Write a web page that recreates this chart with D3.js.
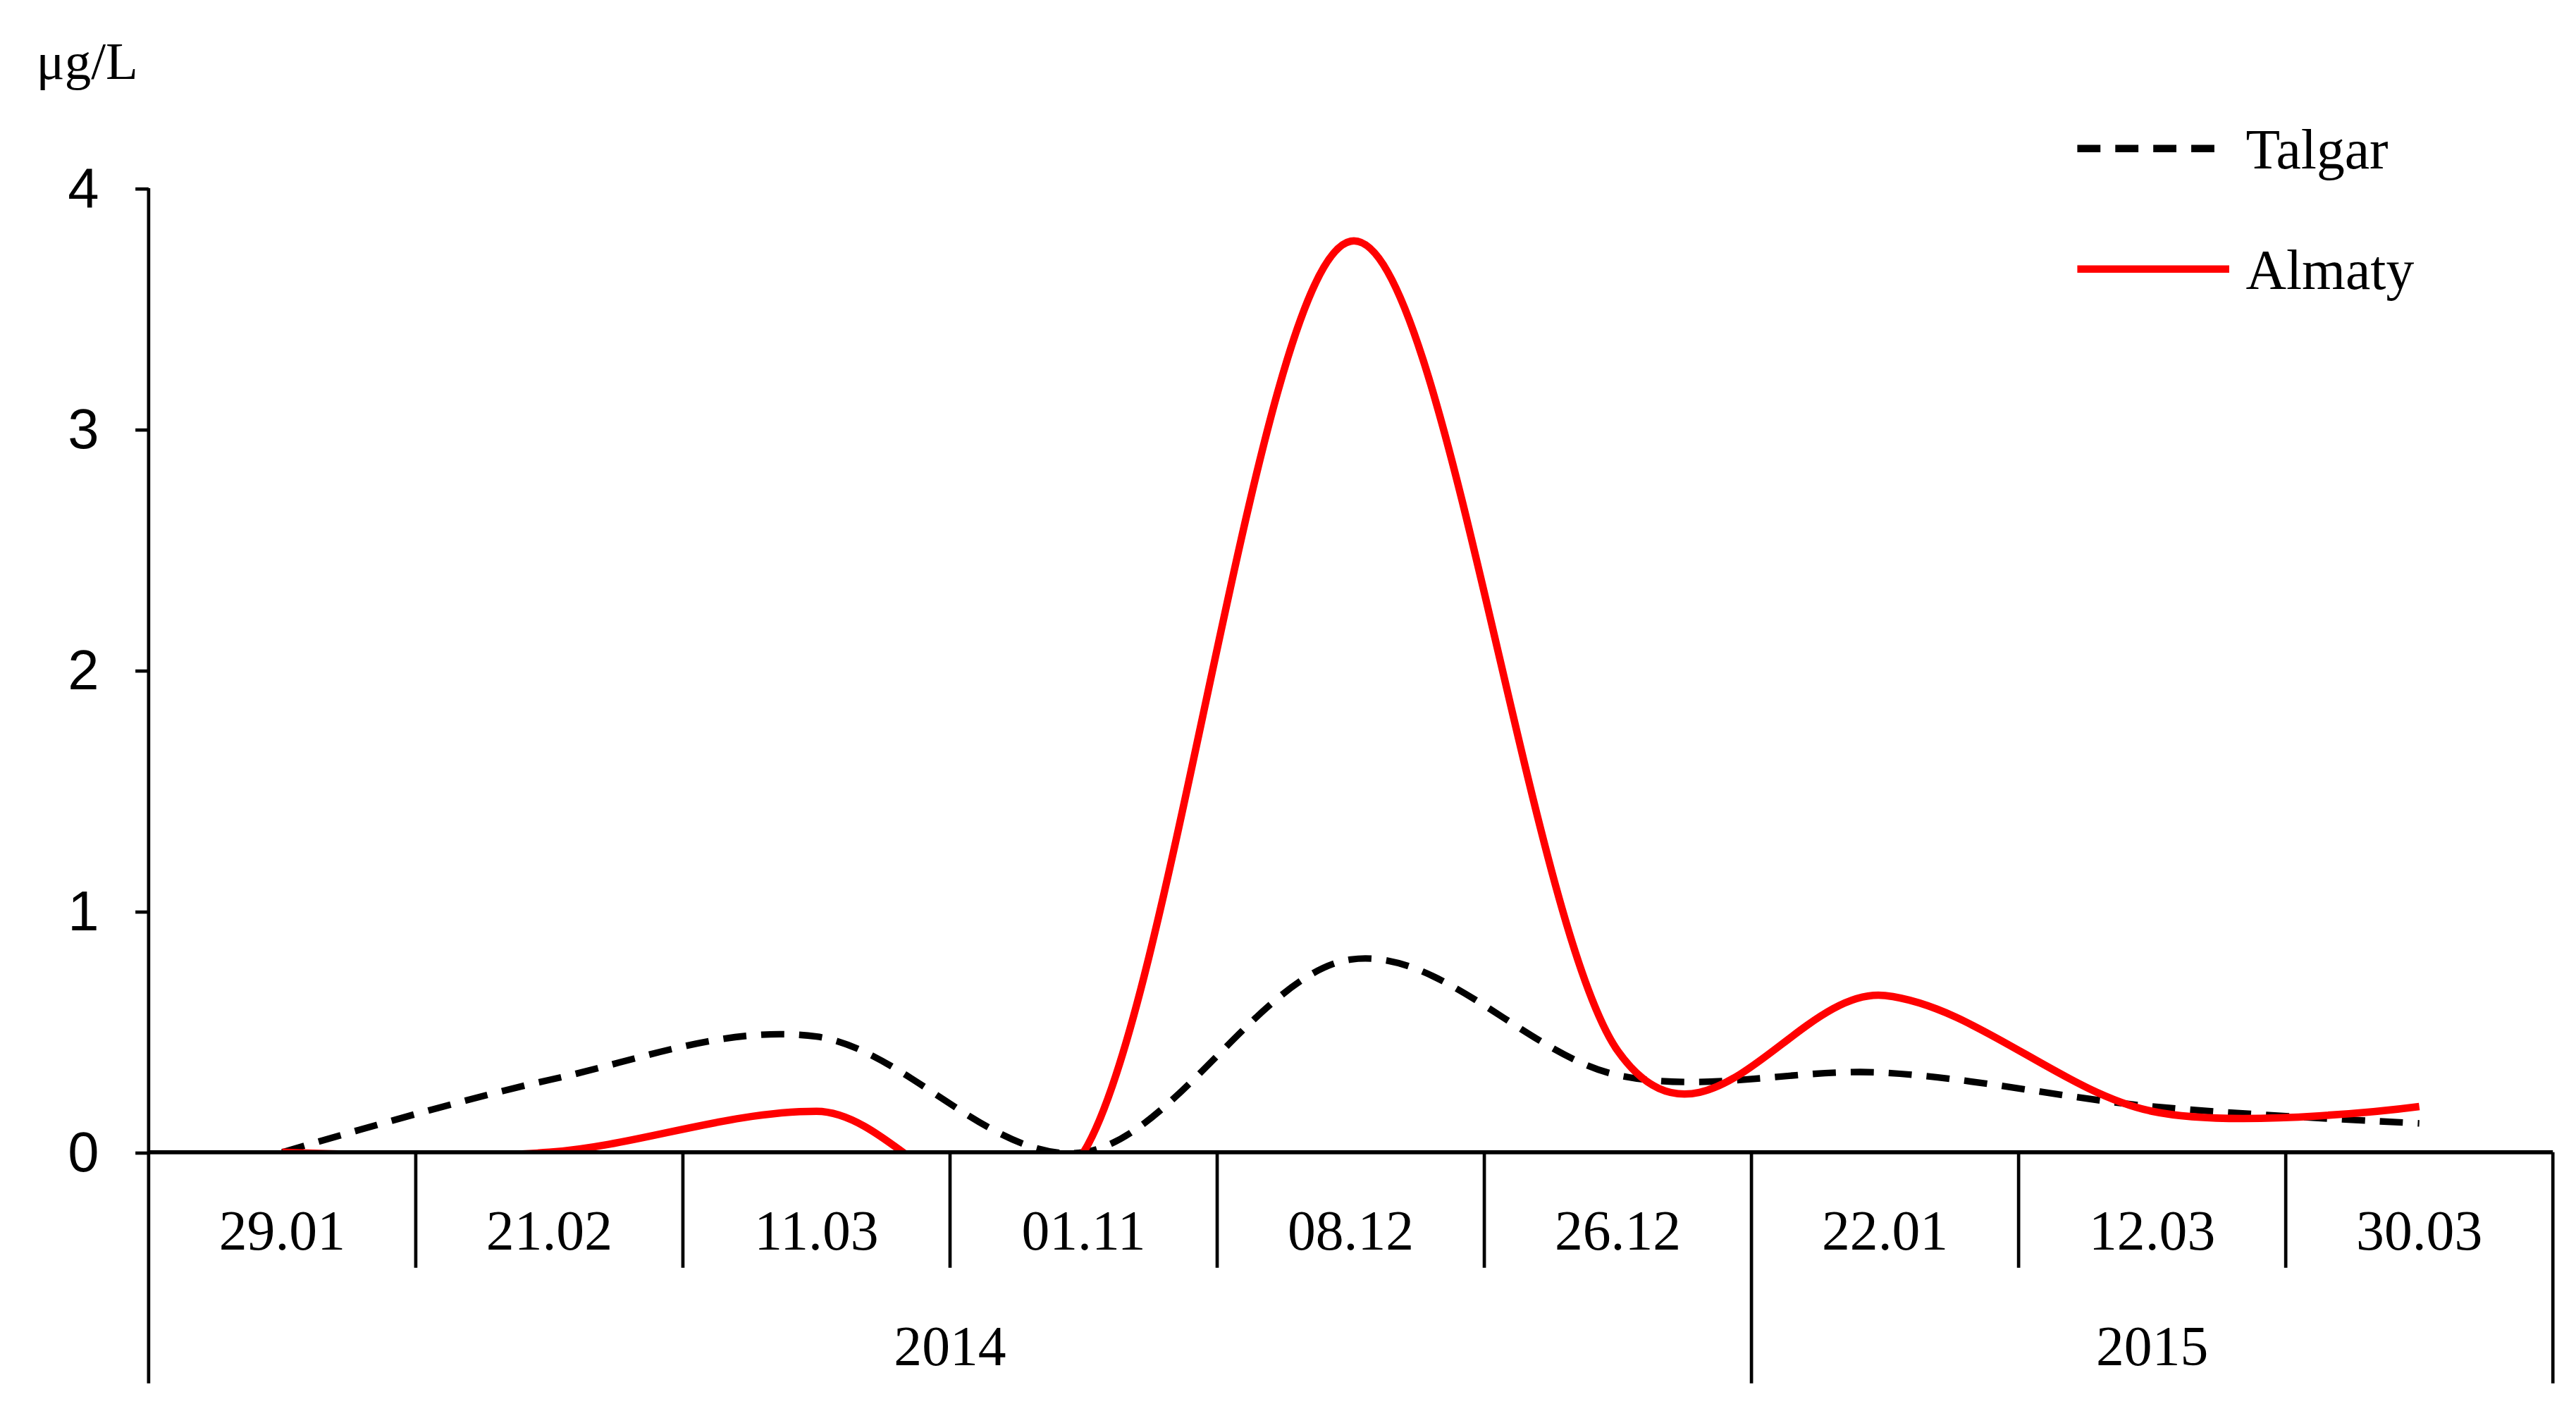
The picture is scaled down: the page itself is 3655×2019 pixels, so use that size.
<!DOCTYPE html>
<html><head><meta charset="utf-8">
<script src="https://cdn.jsdelivr.net/npm/d3@7"></script>
<style>html,body{margin:0;background:#fff}</style>
</head><body>
<script>
var dates = ['29.01', '21.02', '11.03', '01.11', '08.12', '26.12', '22.01', '12.03', '30.03'];
var years = [{label: '2014', from: 0, to: 6}, {label: '2015', from: 6, to: 9}];
var talgar = [0, 0.3, 0.48, 0, 0.8, 0.32, 0.33, 0.19, 0.12];
var almaty = [0, 0, 0.17, 0, 3.78, 0.42, 0.65, 0.17, 0.19];
var yTicks = [0, 1, 2, 3, 4];

(function() {
    var W = 1560, H = 862;
    var svg = d3.select('body').append('svg')
        .attr('width', 3655).attr('height', 2019)
        .attr('viewBox', '0 0 ' + W + ' ' + H)
        .attr('preserveAspectRatio', 'none')
        .style('font-family', '"Liberation Serif", "Times New Roman", serif');

    var pL = 90, pR = 1546, pT = 114, pB = 698;
    var x = d3.scaleBand().domain(d3.range(dates.length)).range([pL, pR]);
    var y = d3.scaleLinear().domain([0, 4]).range([pB, pT]);

    svg.append('clipPath').attr('id', 'plot')
        .append('rect').attr('x', pL).attr('y', pT - 10)
        .attr('width', pR - pL).attr('height', pB - pT + 10);

    // y axis
    var yAxis = svg.append('g').attr('transform', 'translate(' + pL + ',0)')
        .call(d3.axisLeft(y).tickValues(yTicks).tickFormat(d3.format('d')).tickSize(8).tickPadding(22));
    yAxis.select('.domain').attr('stroke-width', 2).attr('d', 'M0,' + pT + 'V' + pB);
    yAxis.selectAll('.tick line').attr('stroke-width', 2);
    yAxis.selectAll('text').attr('font-size', 34).attr('font-family', 'inherit').attr('fill', '#000');

    svg.append('text').attr('x', 22).attr('y', 48).attr('font-size', 32).text('μg/L');

    // lines
    var line = function(vals) {
        return d3.line()
            .x(function(d, i) { return x(i) + x.bandwidth() / 2; })
            .y(function(d) { return y(d); })
            .curve(d3.curveCardinal.tension(0))(vals);
    };
    var g = svg.append('g').attr('clip-path', 'url(#plot)');
    g.append('path').attr('d', line(talgar)).attr('fill', 'none')
        .attr('stroke', '#000').attr('stroke-width', 4).attr('stroke-dasharray', '14,9');
    g.append('path').attr('d', line(almaty)).attr('fill', 'none')
        .attr('stroke', '#ff0000').attr('stroke-width', 4.5);

    // category axis
    svg.append('line').attr('x1', pL).attr('x2', pR).attr('y1', pB).attr('y2', pB)
        .attr('stroke', '#000').attr('stroke-width', 2.5);
    var cat = svg.append('g');
    d3.range(dates.length + 1).forEach(function(i) {
        var xx = i < dates.length ? x(i) : pR;
        var isYear = years.some(function(yr) { return yr.from === i || yr.to === i; });
        cat.append('line').attr('x1', xx).attr('x2', xx)
            .attr('y1', pB).attr('y2', isYear ? 838 : 768)
            .attr('stroke', '#000').attr('stroke-width', 2);
    });
    cat.selectAll('text.d').data(dates).enter().append('text')
        .attr('x', function(d, i) { return x(i) + x.bandwidth() / 2; })
        .attr('y', 757).attr('text-anchor', 'middle').attr('font-size', 34)
        .text(function(d) { return d; });
    cat.selectAll('text.y').data(years).enter().append('text')
        .attr('x', function(d) { return ((d.to < dates.length ? x(d.to) : pR) + x(d.from)) / 2; })
        .attr('y', 827).attr('text-anchor', 'middle').attr('font-size', 34)
        .text(function(d) { return d.label; });

    // legend
    var legend = [{name: 'Talgar', color: '#000', dash: '14,9'}, {name: 'Almaty', color: '#ff0000', dash: null}];
    legend.forEach(function(l, i) {
        var ly = 90 + i * 73;
        svg.append('line').attr('x1', 1258).attr('x2', 1350).attr('y1', ly).attr('y2', ly)
            .attr('stroke', l.color).attr('stroke-width', 4.5).attr('stroke-dasharray', l.dash);
        svg.append('text').attr('x', 1360).attr('y', ly + 12).attr('font-size', 34).text(l.name);
    });
})();
</script>
</body></html>
